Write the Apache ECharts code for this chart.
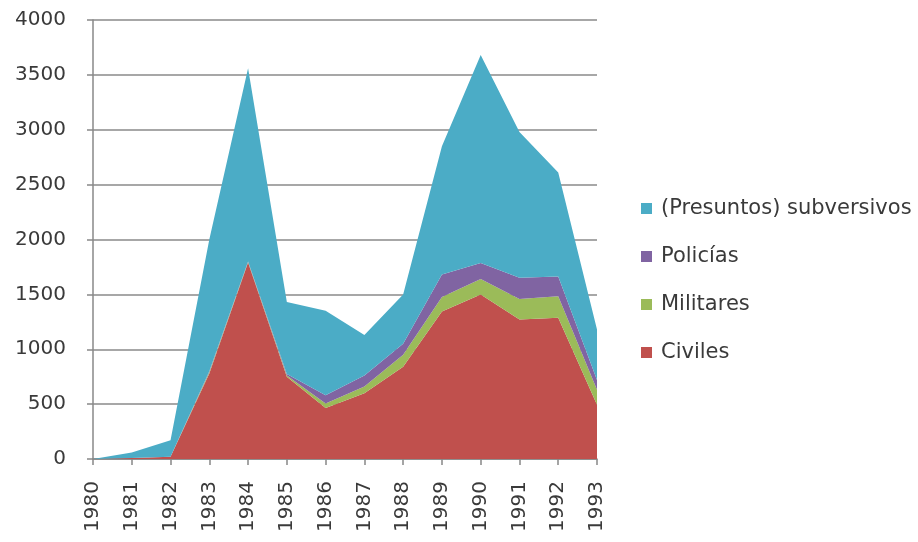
<!DOCTYPE html>
<html>
<head>
<meta charset="utf-8">
<script src="https://cdn.jsdelivr.net/npm/echarts@6/dist/echarts.min.js"></script>
<style>html,body{margin:0;padding:0;background:#fff}#c{width:918px;height:542px}</style>
</head>
<body>
<div id="c"></div>
<script>
var years = ['1980','1981','1982','1983','1984','1985','1986','1987','1988','1989','1990','1991','1992','1993'];
var civiles = [0, 10, 20, 780, 1790, 750, 465, 600, 840, 1345, 1500, 1272, 1288, 495];
var militares = [0, 0, 0, 10, 5, 10, 40, 60, 110, 130, 140, 185, 195, 135];
var policias = [0, 0, 0, 10, 5, 15, 75, 100, 100, 205, 145, 195, 180, 90];
var subversivos = [0, 50, 150, 1200, 1760, 655, 770, 370, 450, 1170, 1895, 1328, 947, 460];
var yTicks = [0, 500, 1000, 1500, 2000, 2500, 3000, 3500, 4000];
var names = ['Civiles', 'Militares', 'Policías', '(Presuntos) subversivos'];
var colors = ['#C0504D', '#9BBB59', '#8064A2', '#4BACC6'];

var font = '"DejaVu Sans", sans-serif';
function area(name, data, color) {
  return {
    name: name, type: 'line', stack: 'total', data: data,
    symbol: 'none', showSymbol: false,
    lineStyle: { width: 0 },
    itemStyle: { color: color },
    areaStyle: { color: color, opacity: 1 }
  };
}
var chart = echarts.init(document.getElementById('c'));
chart.setOption({
  animation: false,
  color: colors,
  grid: { left: 93, right: 321, top: 20, bottom: 83, containLabel: false },
  legend: {
    orient: 'vertical', left: 636, top: 193,
    data: names.slice().reverse(),
    itemWidth: 11, itemHeight: 11, itemGap: 27, icon: 'rect',
    textStyle: { fontFamily: font, fontSize: 21, lineHeight: 21, color: '#3a3a3a', padding: [0, 0, 0, 4] }
  },
  xAxis: {
    type: 'category', data: years, boundaryGap: false,
    axisLine: { lineStyle: { color: '#888', width: 1.5 } },
    axisTick: { show: true, interval: 0, length: 6, lineStyle: { color: '#888', width: 1.5 } },
    axisLabel: { rotate: 90, interval: 0, fontFamily: font, fontSize: 20, color: '#3a3a3a', margin: 22 }
  },
  yAxis: {
    type: 'value', min: yTicks[0], max: yTicks[yTicks.length - 1], interval: yTicks[1] - yTicks[0],
    axisLine: { show: true, lineStyle: { color: '#888', width: 1.5 } },
    axisTick: { show: true, length: 6, lineStyle: { color: '#888', width: 1.5 } },
    splitLine: { lineStyle: { color: '#8a8a8a', width: 1.5 } },
    axisLabel: { fontFamily: font, fontSize: 20, color: '#3a3a3a', margin: 27, formatter: function (v) { return String(v); } }
  },
  series: [
    area(names[0], civiles, colors[0]),
    area(names[1], militares, colors[1]),
    area(names[2], policias, colors[2]),
    area(names[3], subversivos, colors[3])
  ]
});
</script>
</body>
</html>
